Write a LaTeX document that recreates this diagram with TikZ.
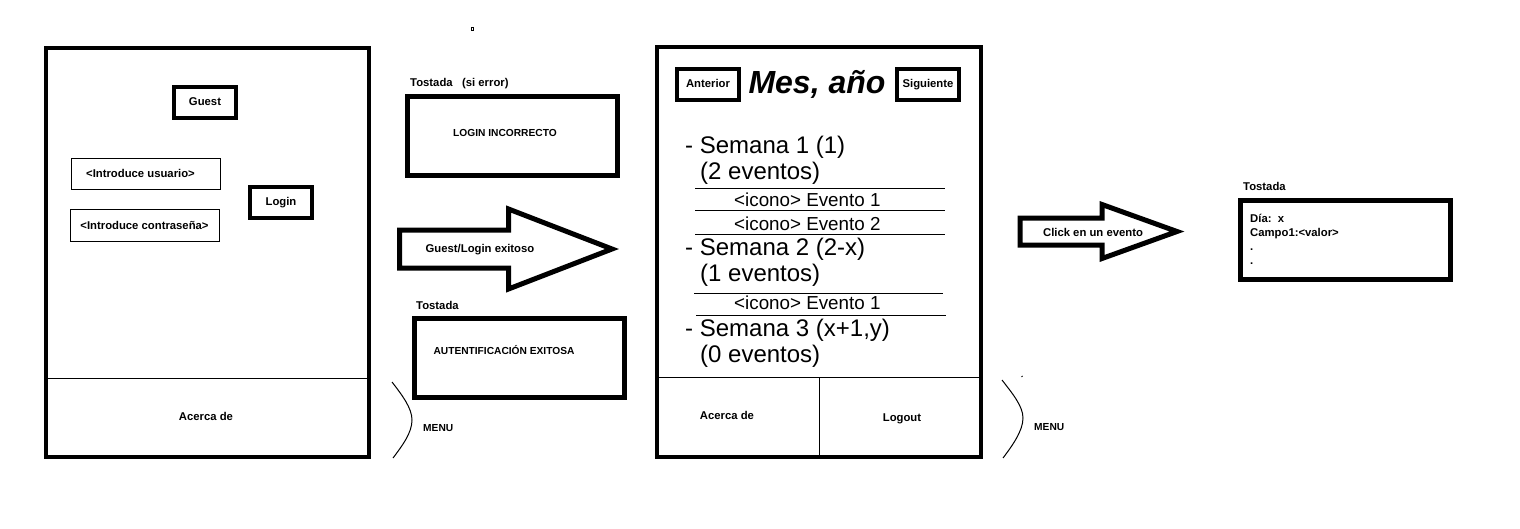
\documentclass[tikz,border=0pt]{standalone}
\usepackage{fontspec}
\setmainfont{Liberation Sans}
\usetikzlibrary{positioning}
\newcommand{\smallbold}{\bfseries\fontsize{11.3}{13}\selectfont}
\newcommand{\capsbold}{\bfseries\fontsize{10.2}{12}\selectfont}
\tikzset{
    frame/.style={draw, line width=4pt}, % phone outline
    btn/.style={draw, line width=4pt, inner sep=0pt, minimum width=62pt, minimum height=31pt,
        font=\smallbold, text height=8pt, text depth=2pt}, % thick buttons
    field/.style={draw, line width=1pt, inner sep=0pt, minimum width=149pt, font=\smallbold}, % input fields
    toast/.style={draw, line width=5pt, inner sep=0pt, minimum width=210pt, minimum height=79pt}, % toast boxes
    lbl/.style={font=\smallbold, inner sep=0pt}, % small bold text
    caps/.style={font=\capsbold, inner sep=0pt},
    week/.style={font=\fontsize{24}{26}\selectfont, anchor=base west, inner sep=0pt},
    item/.style={font=\fontsize{18.8}{20}\selectfont, anchor=base west, inner sep=0pt},
    bigarrow/.style={draw, line width=5pt, line join=miter},
    thin/.style={line width=1pt},
}

\begin{document}
\begin{tikzpicture}[x=1pt, y=-1pt]
    \useasboundingbox (0,0) rectangle (1520,528);
    \draw[thin] (471.5,27.5) rectangle (473.5,30.5);

    % Pantalla login
    \draw[frame] (46,48) rectangle (369,457);
    \draw[thin] (46,378) -- (369,378);
    \node[btn] (guest) at (205,102.5) {Guest};
    \node[btn] (login) at (281,202.5) {Login};
    \node[field, minimum height=31pt] (usr) at (145.5,173.5) {\hspace*{-10pt}<Introduce usuario>};
    \node[field, minimum height=32pt] (pwd) at (144.5,225) {<Introduce contraseña>};
    \node[lbl, anchor=base] (about1) at (206,420) {Acerca de};
    \draw[thin] (392,382) .. controls (402,395) and (412,408) .. (412,420)
        .. controls (412,433) and (402,446) .. (393,458);
    \node[caps, anchor=base west] (menu1) at (423,431.7) {MENU};

    % Tostadas
    \node[lbl, anchor=base west] (t1) at (410,86.7) {Tostada~~~(si error)};
    \node[toast] (err) at (512.5,135.5) {};
    \node[caps, anchor=base] (errtxt) at (505,136) {LOGIN INCORRECTO};
    \draw[bigarrow] (399.5,230) -- (508.5,230) -- (508.5,209) -- (612,249)
        -- (508.5,289) -- (508.5,268) -- (399.5,268) -- cycle;
    \node[lbl, anchor=base] (go) at (480,252.3) {Guest/Login exitoso};
    \node[lbl, anchor=base west] (t2) at (416,309.3) {Tostada};
    \node[toast] (ok) at (519,358) {};
    \node[caps, anchor=base] (oktxt) at (504,354) {AUTENTIFICACIÓN EXITOSA};

    % Pantalla calendario
    \draw[frame] (657,47) rectangle (981,457);
    \draw[thin] (657,377) -- (981,377);
    \draw[thin] (819,377) -- (819,457);
    \node[btn] (prev) at (708,84.5) {Anterior};
    \node[btn] (next) at (928,84.5) {Siguiente};
    \node[font=\bfseries\itshape\fontsize{32}{36}\selectfont, inner sep=0pt, anchor=base] (month) at (817,93.3) {Mes, año};
    \node[week] (w1) at (685,153.3) {- Semana 1 (1)};
    \node[week] (w1n) at (700,179.3) {(2 eventos)};
    \draw[thin] (695,188) -- (945,188);
    \node[item] (e11) at (734,206) {<icono> Evento 1};
    \draw[thin] (695,210) -- (945,210);
    \node[item] (e12) at (734,230) {<icono> Evento 2};
    \draw[thin] (695,234) -- (945,234);
    \node[week] (w2) at (685,255) {- Semana 2 (2-x)};
    \node[week] (w2n) at (700,281.7) {(1 eventos)};
    \draw[thin] (694,293) -- (943,293);
    \node[item] (e21) at (734,309.3) {<icono> Evento 1};
    \draw[thin] (696,315) -- (946,315);
    \node[week] (w3) at (685,336) {- Semana 3 (x+1,y)};
    \node[week] (w3n) at (700,362.7) {(0 eventos)};
    \node[lbl, anchor=base] (about2) at (727,419.3) {Acerca de};
    \node[lbl, anchor=base] (logout) at (902,421.7) {Logout};
    \draw[thin] (1002,380) .. controls (1012,393) and (1023,406) .. (1023,418)
        .. controls (1023,431) and (1012,446) .. (1003,458);
    \draw[thin] (1021.5,377) -- (1022.5,376);
    \node[caps, anchor=base west] (menu2) at (1034,430.7) {MENU};

    % Detalle evento
    \draw[bigarrow] (1020,218) -- (1102,218) -- (1102,204.5) -- (1177,231.5)
        -- (1102,258.5) -- (1102,245) -- (1020,245) -- cycle;
    \node[lbl, anchor=base] (click) at (1093,236) {Click en un evento};
    \node[lbl, anchor=base west] (t3) at (1243,190.7) {Tostada};
    \node[toast] (det) at (1345.5,240) {};
    \node[lbl, anchor=base west] (d1) at (1250,222) {Día:~~x};
    \node[lbl, anchor=base west] (d2) at (1250,236) {Campo1:<valor>};
    \node[lbl, anchor=base west] (d3) at (1250,250) {.};
    \node[lbl, anchor=base west] (d4) at (1250,264) {.};
\end{tikzpicture}
\end{document}
